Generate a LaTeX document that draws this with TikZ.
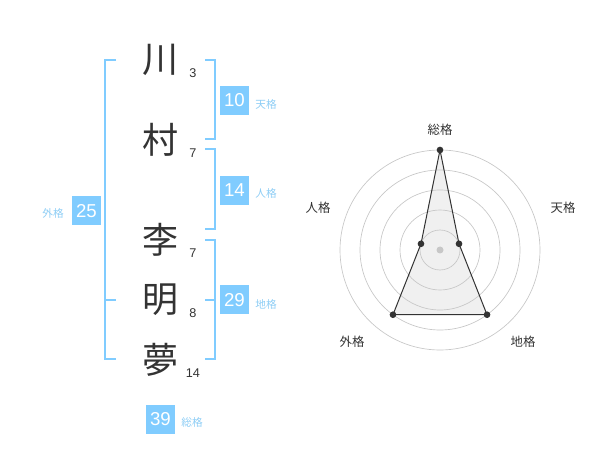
\documentclass[tikz,border=0pt]{standalone}
\usepackage{fontspec}
\usetikzlibrary{calc}
\setmainfont{Noto Sans CJK JP}
\newfontfamily\numfont{Liberation Sans}
\definecolor{skyb}{HTML}{80CCFF}
\definecolor{lbl}{HTML}{8DCDF5}
\definecolor{ink}{HTML}{333333}
\begin{document}
\begin{tikzpicture}[x=0.75pt,y=-0.75pt,
  kanji/.style={font=\fontsize{27}{27}\selectfont, text=ink, inner sep=0},
  strk/.style={font=\numfont\fontsize{9.5}{10}\selectfont, text=ink, inner sep=0},
  valbox/.style={fill=skyb, text=white, font=\numfont\fontsize{14}{14}\selectfont, minimum width=21.75pt, minimum height=21.75pt, inner sep=0},
  grlbl/.style={text=lbl, font=\fontsize{8}{9}\selectfont, inner sep=0},
  brk/.style={draw=skyb, line width=1.5pt},
  ring/.style={draw=black!22, line width=0.5pt},
  rlbl/.style={text=ink, font=\fontsize{9.3}{10}\selectfont, inner sep=0},
  dot/.style={circle, fill=ink, inner sep=0, minimum size=5pt}]
\useasboundingbox (0,0) rectangle (600,470);
% characters
\node[kanji] (c1) at (160,60) {川};
\node[kanji] (c2) at (160,140) {村};
\node[kanji] (c3) at (160,240) {李};
\node[kanji] (c4) at (160,300) {明};
\node[kanji] (c5) at (160,360) {夢};
\node[strk] (s1) at (193,73) {3};
\node[strk] (s2) at (193,153) {7};
\node[strk] (s3) at (193,253) {7};
\node[strk] (s4) at (193,313) {8};
\node[strk] (s5) at (193,373) {14};
% brackets
\draw[brk] (116,60) -| (105,359) -- (116,359);
\draw[brk] (105,300) -- (116,300);
\draw[brk] (205,60) -| (215,139) -- (205,139);
\draw[brk] (205,149) -| (215,229) -- (205,229);
\draw[brk] (205,240) -| (215,359) -- (205,359);
\draw[brk] (205,300) -- (215,300);
% values
\node[valbox] (g) at (86.5,211) {25};
\node[grlbl] (gl) at (53,213) {外格};
\node[valbox] (t) at (234.5,100.5) {10};
\node[grlbl] (tl) at (266,104) {天格};
\node[valbox] (j) at (234.5,190.5) {14};
\node[grlbl] (jl) at (266,193) {人格};
\node[valbox] (c) at (234.5,300) {29};
\node[grlbl] (cl) at (266,304) {地格};
\node[valbox] (s) at (160.5,419) {39};
\node[grlbl] (sl) at (192,422) {総格};
% radar
\coordinate (O) at (440,250);
\coordinate (pS) at ($(O)+(-90:100)$);
\coordinate (pT) at ($(O)+(-18:20)$);
\coordinate (pC) at ($(O)+(54:80)$);
\coordinate (pG) at ($(O)+(126:80)$);
\coordinate (pJ) at ($(O)+(198:20)$);
\fill[black!6] (pS) -- (pT) -- (pC) -- (pG) -- (pJ) -- cycle;
\foreach \r in {20,40,60,80,100} \draw[ring] (O) circle[radius=\r];
\fill[black!22] (O) circle[radius=3.5];
\draw[draw=ink, line width=0.75pt] (pS) -- (pT) -- (pC) -- (pG) -- (pJ) -- cycle;
\foreach \p in {pS,pT,pC,pG,pJ} \node[dot] at (\p) {};
\node[rlbl] (rs) at (440,130) {総格};
\node[rlbl] (rt) at (563,208) {天格};
\node[rlbl] (rj) at (318,208) {人格};
\node[rlbl] (rg) at (352,342) {外格};
\node[rlbl] (rc) at (523,342) {地格};
\end{tikzpicture}
\end{document}
